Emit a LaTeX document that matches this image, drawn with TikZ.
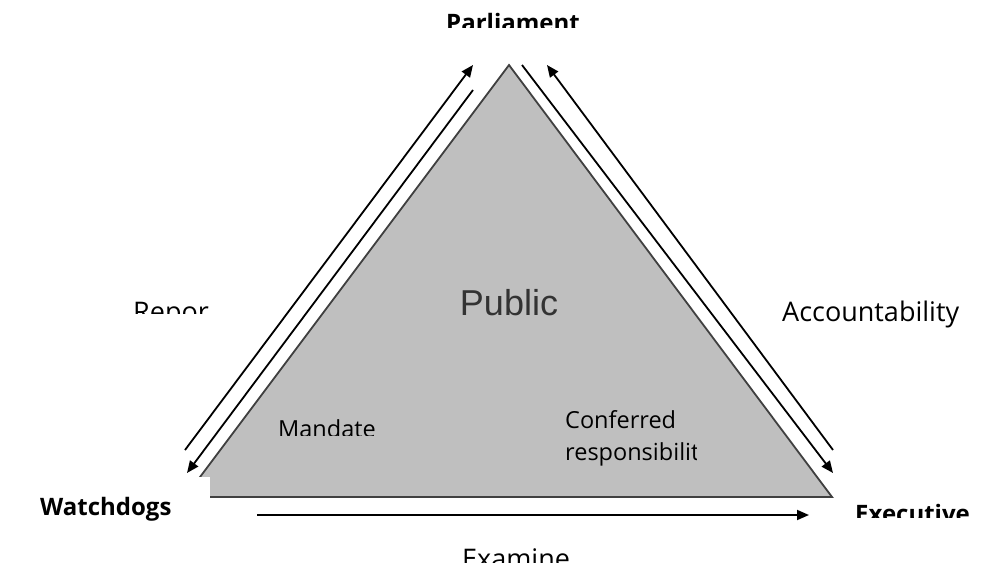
\documentclass[tikz,border=0pt]{standalone}
\usepackage{fontspec}
\setmainfont{Open Sans}
\newfontfamily\arialfont{Liberation Sans}
\usetikzlibrary{arrows.meta}

\tikzset{
  flow/.style={line width=1.8pt, -{Triangle[length=12pt,width=10pt]}},
  lbl/.style={inner sep=0pt, font=\fontsize{27}{32}\selectfont},
  small/.style={inner sep=0pt, font=\fontsize{23.5}{30}\selectfont},
  actor/.style={inner sep=0pt, font=\fontsize{24}{28}\selectfont\bfseries},
}

\begin{document}
\begin{tikzpicture}[x=1pt,y=-1pt]
\useasboundingbox (0,0) rectangle (991,565);

% corners of the triangle
\coordinate (top) at (509,65);
\coordinate (bl) at (185,497);
\coordinate (br) at (832,497);
\draw[fill=black!25, draw=black!75, line width=1.8pt] (top) -- (br) -- (bl) -- cycle;

% ends of the arrows along the sides
\coordinate (lo1) at (185,450); \coordinate (lo2) at (473,65);
\coordinate (li1) at (473,90);  \coordinate (li2) at (187,473);
\coordinate (ro1) at (833,450); \coordinate (ro2) at (547,65);
\coordinate (ri1) at (522,65);  \coordinate (ri2) at (833,473);
\coordinate (bo1) at (257,515); \coordinate (bo2) at (809,515);

\draw[flow] (lo1) -- (lo2);
\draw[flow] (li1) -- (li2);
\draw[flow] (ro1) -- (ro2);
\draw[flow] (ri1) -- (ri2);
\draw[flow] (bo1) -- (bo2);

% the three actors
\fill[white] (30,477) rectangle (210,505);
\node[actor, anchor=base west] (watch) at (40,515) {Watchdogs};
\begin{scope}
  \clip (400,0) rectangle (620,27);
  \node[actor, anchor=base] (parl) at (513,31) {Parliament};
\end{scope}
\begin{scope}
  \clip (840,490) rectangle (991,517);
  \node[actor, anchor=base west] (exec) at (855,522) {Executive};
\end{scope}

\node[inner sep=0pt, anchor=base, text=black!80,
      font=\arialfont\fontsize{36}{40}\selectfont] (pub) at (509,315) {Public};

% relations
\begin{scope}
  \clip (100,280) rectangle (208,313);
  \node[lbl, anchor=base west] (rep) at (133,321) {Reporting};
\end{scope}
\node[lbl, anchor=base west] (acc) at (782,321) {Accountability};
\begin{scope}
  \clip (260,400) rectangle (400,435);
  \node[small, anchor=base west] (mand) at (278,437) {Mandate};
\end{scope}
\begin{scope}
  \clip (550,390) rectangle (696,480);
  \node[small, anchor=base west] (conf) at (565,428) {Conferred};
  \node[small, anchor=base west] (resp) at (565,460) {responsibility};
\end{scope}
\begin{scope}
  \clip (440,530) rectangle (600,562);
  \node[lbl, anchor=base west] (exam) at (462,568) {Examine};
\end{scope}
\end{tikzpicture}
\end{document}
